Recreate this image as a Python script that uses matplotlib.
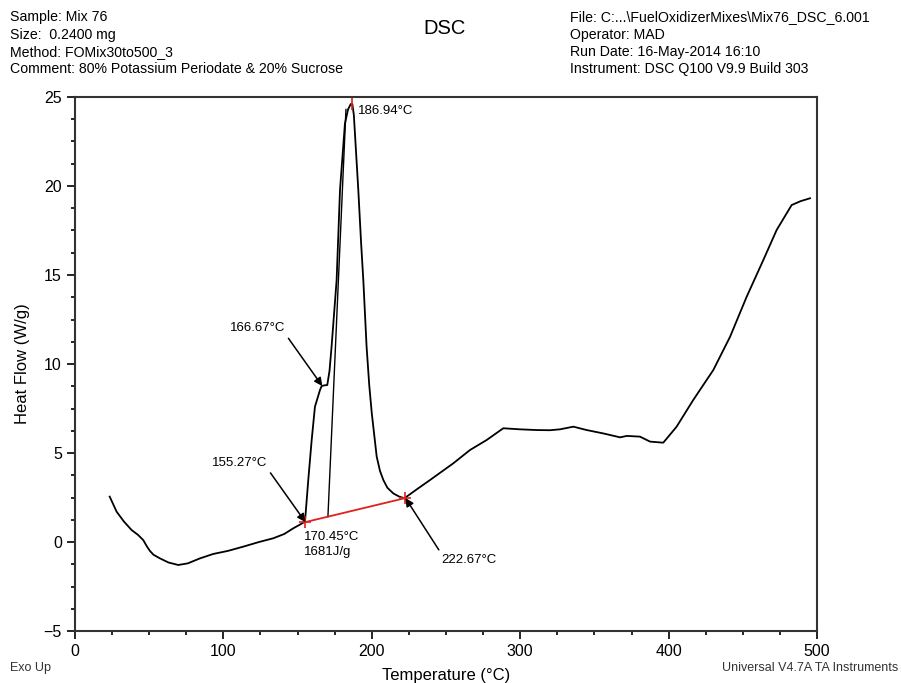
import numpy as np
import matplotlib.pyplot as plt
from matplotlib.ticker import MultipleLocator

plt.rcParams['font.family'] = ['Liberation Sans', 'DejaVu Sans']

# heat flow curve (temperature in C, heat flow in W/g)
temp = [23.4, 28.1, 33.0, 38.2, 42.5, 46.0, 48.5, 50.5, 53.0, 57.3, 63.0, 69.6,
        76.0, 84.2, 93.2, 103.0, 113.4, 124.0, 133.6, 141.0, 147.1, 151.0, 153.9,
        155.0, 157.2, 159.5, 161.7, 165.1, 166.2, 168.0, 170.0, 171.5, 172.9,
        176.3, 178.6, 181.9, 184.0, 185.8, 186.9, 187.9, 188.9, 190.9, 192.8,
        194.3, 196.5, 198.3, 200.0, 203.3, 205.5, 207.8, 210.5, 214.5, 218.5,
        222.4, 223.5, 231.0, 239.2, 254.9, 266.2, 277.4, 288.6, 299.9, 311.1,
        320.0, 326.8, 335.8, 344.8, 356.0, 367.3, 371.8, 380.7, 387.5, 396.4,
        405.4, 416.6, 430.1, 441.4, 452.6, 463.8, 472.8, 482.9, 489.0, 495.3]
heat = [2.55, 1.70, 1.15, 0.67, 0.40, 0.11, -0.25, -0.50, -0.72, -0.92, -1.15,
        -1.29, -1.20, -0.92, -0.67, -0.50, -0.26, 0.00, 0.21, 0.45, 0.77, 0.95,
        1.09, 1.14, 3.48, 5.73, 7.60, 8.54, 8.76, 8.80, 8.82, 9.60, 10.97, 14.7,
        19.8, 23.5, 24.3, 24.6, 24.6, 24.0, 22.6, 19.8, 16.8, 14.7, 10.97, 8.8,
        7.23, 4.80, 4.00, 3.48, 3.05, 2.73, 2.55, 2.45, 2.55, 3.00, 3.48, 4.42,
        5.17, 5.73, 6.39, 6.33, 6.29, 6.28, 6.33, 6.48, 6.29, 6.10, 5.88, 5.96,
        5.92, 5.64, 5.58, 6.48, 7.98, 9.66, 11.53, 13.78, 15.84, 17.53, 18.93,
        19.15, 19.31]

# integration baseline and partial line
base_t = [155.27, 222.67]
base_hf = [1.12, 2.47]
drop_t = [170.45, 182.6]
drop_hf = [1.42, 24.3]

fig = plt.figure(figsize=(9.02, 6.83), dpi=100)
ax = fig.add_axes([0.0831, 0.0761, 0.8227, 0.7819])

ax.plot(temp, heat, color='black', lw=1.3)
ax.plot(drop_t, drop_hf, color='black', lw=1.0)
ax.plot(base_t, base_hf, color='#e0201c', lw=1.3)
ax.plot(base_t, base_hf, ls='none', marker='+', ms=9, mew=1.2, color='#e0201c')
ax.plot([186.94], [24.6], ls='none', marker='|', ms=8, mew=1.2, color='#e0201c')

ax.set_xlim(0, 500)
ax.set_ylim(-5, 25)
ax.xaxis.set_major_locator(MultipleLocator(100))
ax.xaxis.set_minor_locator(MultipleLocator(25))
ax.yaxis.set_major_locator(MultipleLocator(5))
ax.yaxis.set_minor_locator(MultipleLocator(1.25))
ax.tick_params(which='major', direction='out', length=6, width=1.2, labelsize=11.5)
ax.tick_params(which='minor', direction='out', length=3, width=1.2)
for s in ax.spines.values():
    s.set_linewidth(1.5)
    s.set_color('#333333')

ax.set_xlabel('Temperature (°C)', fontsize=12, labelpad=6)
ax.set_ylabel('Heat Flow (W/g)', fontsize=12, labelpad=10)

def arrow(rel):
    return dict(arrowstyle='-|>', color='black', lw=1.1, mutation_scale=12,
                shrinkA=1, shrinkB=0, relpos=rel)

ax.annotate('186.94°C', xy=(190.5, 24.2), fontsize=9.5, va='center', ha='left')
ax.annotate('166.67°C', xy=(166.67, 8.76), xytext=(123.3, 12.0), fontsize=9.5,
            ha='center', va='center', arrowprops=arrow((1.0, 0.0)))
ax.annotate('155.27°C', xy=(155.27, 1.12), xytext=(111.2, 4.44), fontsize=9.5,
            ha='center', va='center', arrowprops=arrow((1.0, 0.0)))
ax.annotate('222.67°C', xy=(222.67, 2.47), xytext=(265.5, -1.0), fontsize=9.5,
            ha='center', va='center', arrowprops=arrow((0.0, 1.0)))
ax.text(154.5, 0.6, '170.45°C\n1681J/g', fontsize=9.5, ha='left', va='top',
        linespacing=1.3)

fig.text(0.011, 0.985, 'Sample: Mix 76\nSize:  0.2400 mg\nMethod: FOMix30to500_3\n'
         'Comment: 80% Potassium Periodate & 20% Sucrose',
         fontsize=10.2, ha='left', va='top', linespacing=1.3)
fig.text(0.632, 0.985, 'File: C:...\\FuelOxidizerMixes\\Mix76_DSC_6.001\nOperator: MAD\n'
         'Run Date: 16-May-2014 16:10\nInstrument: DSC Q100 V9.9 Build 303',
         fontsize=10.2, ha='left', va='top', linespacing=1.3)
fig.text(0.493, 0.958, 'DSC', fontsize=14.5, ha='center', va='center')
fig.text(0.011, 0.022, 'Exo Up', fontsize=9, ha='left', va='center', color='#333333')
fig.text(0.996, 0.022, 'Universal V4.7A TA Instruments', fontsize=9, ha='right',
         va='center', color='#333333')

fig.savefig('out.png', dpi=100)
